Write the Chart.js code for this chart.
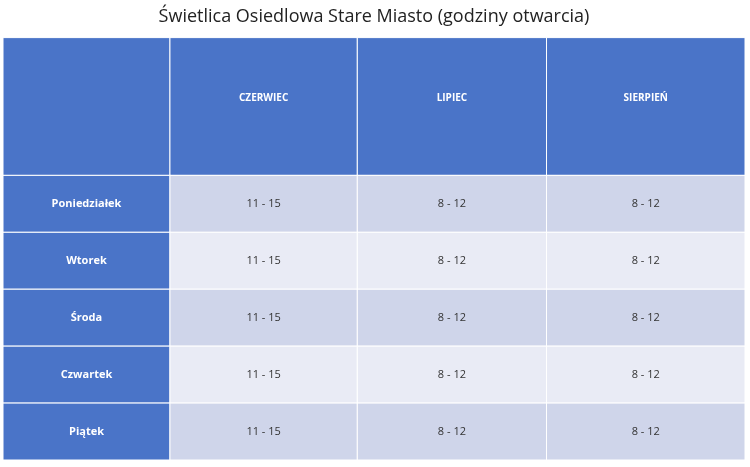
<!DOCTYPE html>
<html><head><meta charset="utf-8">
<script src="https://cdn.jsdelivr.net/npm/chart.js@4"></script>
<style>html,body{margin:0;background:#fff}#c{width:750px;height:467px}</style>
</head><body><div id="c"><canvas id="cv"></canvas></div>
<script>
const title = 'Świetlica Osiedlowa Stare Miasto (godziny otwarcia)';
const months = ['CZERWIEC', 'LIPIEC', 'SIERPIEŃ'];
const days = ['Poniedziałek', 'Wtorek', 'Środa', 'Czwartek', 'Piątek'];
const czerwiec = ['11 - 15', '11 - 15', '11 - 15', '11 - 15', '11 - 15'];
const lipiec = ['8 - 12', '8 - 12', '8 - 12', '8 - 12', '8 - 12'];
const sierpien = ['8 - 12', '8 - 12', '8 - 12', '8 - 12', '8 - 12'];
const values = [czerwiec, lipiec, sierpien];

const colEdges = [0, 0.9, 1.91, 2.93, 4];
const rowEdges = [0, 2.42, 3.42, 4.42, 5.42, 6.42, 7.42];

const tablePlugin = {
  id: 'table',
  afterDraw(chart) {
    const ctx = chart.ctx, xs = chart.scales.x, ys = chart.scales.y;
    const X = v => xs.getPixelForValue(v), Y = v => ys.getPixelForValue(v);
    const cell = (c, r, fill, text, font, color) => {
      const x0 = X(colEdges[c]), x1 = X(colEdges[c + 1]);
      const y0 = Y(rowEdges[r]), y1 = Y(rowEdges[r + 1]);
      ctx.fillStyle = fill; ctx.fillRect(x0, y0, x1 - x0, y1 - y0);
      ctx.strokeStyle = '#ffffff'; ctx.lineWidth = 1; ctx.strokeRect(x0, y0, x1 - x0, y1 - y0);
      if (text) {
        ctx.fillStyle = color; ctx.font = font; ctx.textAlign = 'center'; ctx.textBaseline = 'middle';
        ctx.fillText(text, (x0 + x1) / 2, (c === 0 || r > 0) ? (y0 + y1) / 2 : y0 + 61);
      }
    };
    ctx.save();
    const blue = '#4a74c8';
    cell(0, 0, blue, '', '', '#fff');
    months.forEach((m, i) => cell(i + 1, 0, blue, m, 'bold 10px "Open Sans"', '#fff'));
    days.forEach((d, r) => {
      cell(0, r + 1, blue, d, 'bold 11px "Open Sans"', '#fff');
      const bg = r % 2 === 0 ? '#cfd5ea' : '#e9ebf5';
      values.forEach((col, c) => cell(c + 1, r + 1, bg, col[r], '11px "Open Sans"', '#333'));
    });
    ctx.restore();
  }
};

new Chart(document.getElementById('cv'), {
  type: 'scatter',
  data: { datasets: [{ data: [] }] },
  options: {
    responsive: true, maintainAspectRatio: false, animation: false,
    layout: { padding: { left: 3, right: 5, bottom: 7, top: 0 } },
    plugins: {
      legend: { display: false }, tooltip: { enabled: false },
      title: { display: true, text: title, color: '#222', font: { family: 'Open Sans', size: 18, weight: 'normal' }, padding: { top: 6, bottom: 10 } }
    },
    scales: {
      x: { type: 'linear', display: false, min: 0, max: 4 },
      y: { type: 'linear', display: false, min: 0, max: 7.42, reverse: true }
    }
  },
  plugins: [tablePlugin]
});
</script></body></html>
